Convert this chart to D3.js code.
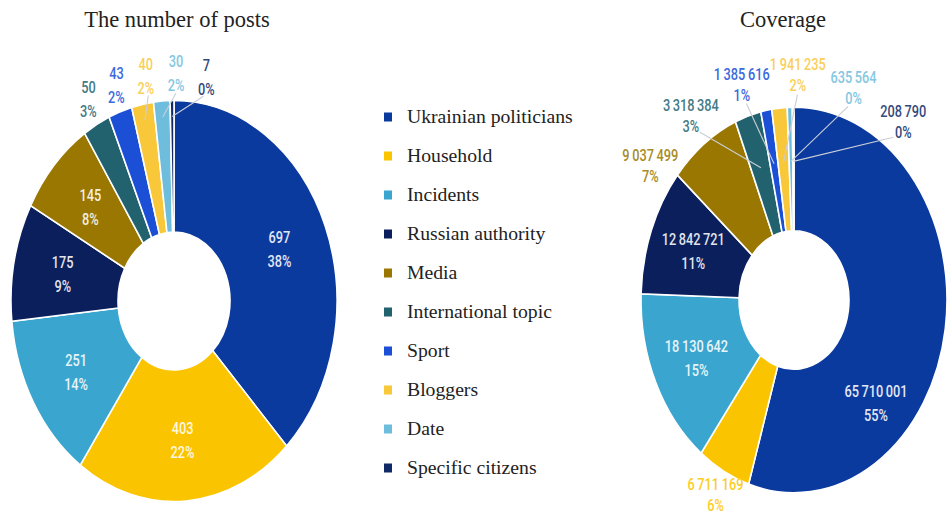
<!DOCTYPE html>
<html>
<head>
<meta charset="utf-8">
<script src="https://cdn.jsdelivr.net/npm/d3@7"></script>
<style>
  body { margin: 0; background: #fff; }
  svg { display: block; }
</style>
</head>
<body>
<div id="chart"></div>
<script>
// data
var categories = ["Ukrainian politicians", "Household", "Incidents", "Russian authority", "Media",
                  "International topic", "Sport", "Bloggers", "Date", "Specific citizens"];
var colors = ["#0b3a9e", "#fbc400", "#3aa6cf", "#0a1f5c", "#997700",
              "#22626f", "#1a4fd6", "#f9c73a", "#6fbddc", "#0f2a66"];
var postValues = [697, 403, 251, 175, 145, 50, 43, 40, 30, 7];
var postPercents = ["38%", "22%", "14%", "9%", "8%", "3%", "2%", "2%", "2%", "0%"];
var coverageValues = [65710001, 6711169, 18130642, 12842721, 9037499, 3318384, 1385616, 1941235, 635564, 208790];
var coveragePercents = ["55%", "6%", "15%", "11%", "7%", "3%", "1%", "2%", "0%", "0%"];

var w = 948, h = 519;
var svg = d3.select("#chart").append("svg").attr("width", w).attr("height", h);

var spaced = d3.formatLocale({decimal: ".", thousands: "\u2009", grouping: [3], currency: ["", ""]}).format(",d");

// layout settings for each donut
var charts = [
  {title: "The number of posts", tx: 177, cx: 174, cy: 301, rx: 163, inner: 56, sy: 1.23,
   values: postValues, percents: postPercents, outsideBelow: 0.05, lineBelow: 0.023,
   spreadStep: 9.4, outR: 185, lineEndR: 150, gap: 24, outGap: 24, angleFix: {}},
  {title: "Coverage", tx: 783, cx: 794, cy: 300, rx: 153, inner: 55, sy: 1.26,
   values: coverageValues, percents: coveragePercents, outsideBelow: 0.08, lineBelow: 0.03,
   spreadStep: 18.2, outR: 179, lineEndR: 110, gap: 24, outGap: 21, angleFix: {0: [135, 116], 1: [207, 173]}}
];

function drawDonut(c) {
  var data = c.values.map(function(v, i) { return {name: categories[i], value: v, i: i}; });
  var total = d3.sum(c.values);
  var arcs = d3.pie().sort(null).value(function(d) { return d.value; })(data);
  var deg = 180 / Math.PI;

  function pt(a, r) { // a in degrees, clockwise from top
    var t = a / deg;
    return [c.cx + r * Math.sin(t), c.cy - r * Math.cos(t) * c.sy];
  }

  svg.append("text").attr("x", c.tx).attr("y", 27).attr("text-anchor", "middle")
    .style("font-family", "'Liberation Serif', 'Times New Roman', serif").style("font-size", "22.5px")
    .style("fill", "#222").text(c.title);

  var arc = d3.arc().innerRadius(c.inner).outerRadius(c.rx);
  var g = svg.append("g").attr("transform", "translate(" + c.cx + "," + c.cy + ") scale(1," + c.sy + ")");
  g.selectAll("path").data(arcs).enter().append("path")
    .attr("d", arc).attr("fill", function(d) { return colors[d.data.i]; })
    .attr("stroke", "#fff").attr("stroke-width", 1.6).attr("vector-effect", "non-scaling-stroke");

  // label angles: inside at centroid, small slices pushed outside and spread apart
  arcs.forEach(function(d) {
    d.mid = (d.startAngle + d.endAngle) / 2 * deg;
    d.share = d.value / total;
    d.outside = d.share < c.outsideBelow;
    d.la = d.mid;
  });
  var group = arcs.filter(function(d, k) { return d.outside && k >= 4; });
  var center = d3.mean(group, function(d) { return d.mid; }) + 4;
  group.forEach(function(d, k) { d.la = center + (k - (group.length - 1) / 2) * c.spreadStep; });

  var lines = svg.append("g");
  var labels = svg.append("g");
  arcs.forEach(function(d) {
    var p, fill;
    var fix = c.angleFix[d.data.i];
    if (d.outside) {
      p = fix ? pt(fix[0], fix[1]) : pt(d.la, c.outR);
      fill = d3.interpolateRgb(colors[d.data.i], "#fff")(0.15);
      if (d.share < c.lineBelow) {
        var a = pt(d.la, c.outR - 16), b = pt(d.mid, c.lineEndR);
        lines.append("line").attr("x1", a[0]).attr("y1", a[1]).attr("x2", b[0]).attr("y2", b[1])
          .attr("stroke", "#c9ced6").attr("stroke-width", 1.1);
      }
    } else {
      p = fix ? pt(fix[0], fix[1]) : pt(d.mid, (c.inner + c.rx) / 2 + 4);
      fill = d3.interpolateRgb(colors[d.data.i], "#fff")(0.88);
    }
    var gap = d.outside ? c.outGap : c.gap;
    var lg = labels.append("g").attr("transform", "translate(" + p[0] + "," + p[1] + ")");
    [spaced(d.value), c.percents[d.data.i]].forEach(function(s, k) {
      lg.append("text").attr("transform", "translate(0," + (-gap / 2 + 6 + k * gap) + ") scale(0.75,1)")
        .attr("text-anchor", "middle").style("font-family", "Roboto, sans-serif").style("font-weight", 500)
        .style("font-size", "17px").style("fill", fill).text(s);
    });
  });
}

charts.forEach(drawDonut);

// legend
var legend = svg.append("g").attr("transform", "translate(384,117)");
var rows = legend.selectAll("g").data(categories).enter().append("g")
  .attr("transform", function(d, i) { return "translate(0," + (i * 39) + ")"; });
rows.append("rect").attr("x", 0).attr("y", -4.5).attr("width", 8).attr("height", 9)
  .attr("fill", function(d, i) { return colors[i]; });
rows.append("text").attr("x", 23).attr("y", 5.5).text(function(d) { return d; })
  .style("font-family", "'Liberation Serif', 'Times New Roman', serif").style("font-size", "19.7px").style("fill", "#222");
</script>
</body>
</html>
